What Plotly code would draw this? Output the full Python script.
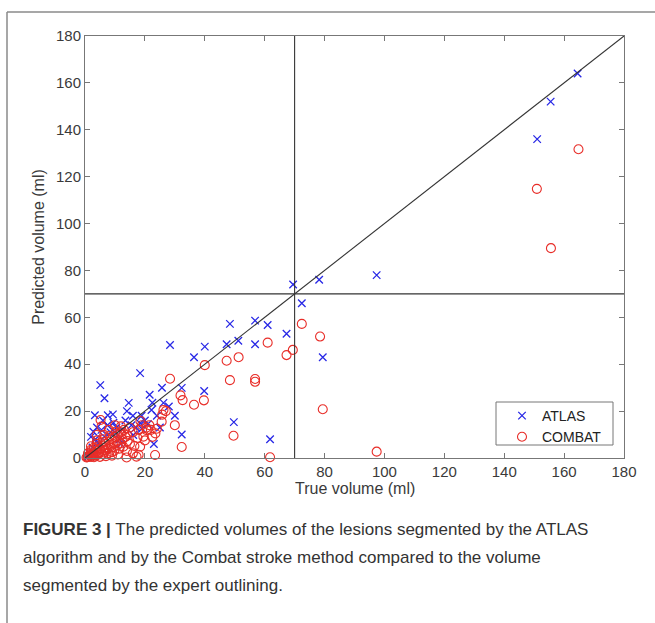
import plotly.graph_objects as go

# ---------------- data ----------------
atlas_true = [164.5, 155.5, 151, 97.4, 78.2, 72.4, 69.5, 79.4, 67.3, 61.8, 61, 56.8, 56.8, 48.4,
              51.2, 47.3, 40, 36.4, 39.8, 49.7, 32.3, 32.3, 28.4, 18.4, 25.7, 21.6, 22.5, 26.2,
              14.6, 14, 22.2, 18.9, 18.4, 23, 16.1, 5.1, 6.5, 3.3, 7.6, 9.3, 2.8,
              1.5, 2.5, 3.5, 4.5, 5.5, 6.5, 7.5, 8.5, 9.5, 10.5, 11.5, 12.5, 13.5, 15.5, 17, 19,
              20, 21, 24, 25, 2, 4, 6, 10, 12, 16, 28, 30, 1, 3]
atlas_pred = [164, 152, 136, 78, 76, 66, 74, 43, 53, 8, 56.7, 58.6, 48.5, 57.2,
              50, 48.5, 47.5, 43, 28.6, 15.3, 29.9, 10, 48.2, 36.2, 30, 27, 23.6, 23.5,
              23.5, 20, 20.5, 18, 14.8, 6, 9.8, 31.1, 25.5, 18.2, 18.2, 18.6, 11.2,
              2, 4.5, 8, 6, 12, 9, 14, 11, 15, 13, 8, 12, 16, 14, 13, 12.5,
              16, 14.5, 18, 13, 9, 13, 16, 11, 6, 18, 22, 18, 0.5, 1.5]

combat_true = [164.8, 150.9, 155.6, 97.4, 72.4, 78.5, 61, 69.4, 67.3, 40, 47.3, 51.3, 48.4, 56.8,
               56.8, 32.6, 36.4, 39.7, 79.4, 49.6, 61.8, 32.3, 28.4, 31.9, 26.2, 25.8, 25.6,
               20.6, 19.5, 18.4, 17.2, 23.4, 13.9, 17.9, 22, 21.5, 24, 22.5, 20, 23.5,
               5.2, 5.5, 6.4, 3.9,
               0.5, 1, 1.5, 2, 2.5, 3, 3.5, 4, 4.5, 5, 5.5, 6, 6.5, 7, 7.5, 8, 8.5, 9, 9.5, 10,
               10.5, 11, 11.5, 12, 12.5, 13, 13.5, 14, 15, 16, 1, 2, 3, 4, 8, 10, 12, 11, 9, 7,
               5, 3, 14, 15, 16, 4, 6, 2, 9, 27, 30, 19, 18,
               0.8, 1.8, 2.8, 3.8, 4.8, 5.8, 6.8, 7.8, 8.8, 9.8, 10.8, 11.8, 12.8, 2.2, 4.2, 6.2,
               8.2, 10.2, 12.2, 14.2, 16.5, 17.5, 18.5, 20.5]
combat_pred = [131.7, 114.8, 89.5, 2.7, 57.2, 51.8, 49.2, 46.1, 43.9, 39.6, 41.5, 43, 33.2, 33.7,
               32.5, 24.7, 22.7, 24.6, 20.8, 9.5, 0.3, 4.7, 33.8, 26.7, 20.5, 18.5, 15.5,
               11.9, 9.1, 4.8, 0.6, 1.3, 0.2, 1.4, 12, 14, 12.5, 9, 7.5, 10.5,
               16.2, 13.4, 9.8, 9.8,
               0.2, 0.6, 1.2, 0.5, 1.8, 2.5, 1, 3, 2, 4, 2.5, 5, 3.5, 6, 4, 7, 5, 8, 6, 9,
               7, 10, 4, 11, 8, 12, 9, 10, 13, 11, 2, 3.5, 4.5, 6, 12, 14, 13.5, 1.5, 1, 0.8,
               0.5, 0.3, 3, 6, 2, 7.5, 8, 5, 2.5, 20, 14, 14, 12,
               0.3, 0.9, 1.4, 1.1, 2.4, 1.6, 3.2, 2.1, 4.4, 3.1, 5.6, 6.2, 4.8, 2.9, 4.9, 6.8,
               9.4, 11.2, 10.1, 7.2, 5.1, 8.6, 15.8, 12.9]

series_names = ["ATLAS", "COMBAT"]
axis_range = [0, 180]
tick_values = [0, 20, 40, 60, 80, 100, 120, 140, 160, 180]
threshold = 70

x_title = "True volume (ml)"
y_title = "Predicted volume (ml)"
caption_lines = [
    "<b>FIGURE 3 |</b> The predicted volumes of the lesions segmented by the ATLAS",
    "algorithm and by the Combat stroke method compared to the volume",
    "segmented by the expert outlining.",
]

# ---------------- figure ----------------
FONT = "Liberation Sans, Arial, Helvetica, sans-serif"
W, H = 655, 623
L, R, T, B = 85, 31, 36, 165
PW, PH = W - L - R, H - T - B

def px_to_paper_x(px):
    return (px - L) / PW

def px_to_paper_y(py):
    return (H - B - py) / PH

fig = go.Figure()

fig.add_trace(go.Scatter(
    x=atlas_true, y=atlas_pred, mode="markers", name=series_names[0],
    marker=dict(symbol="x-thin-open", size=7.5, color="rgb(40,40,230)",
                line=dict(width=1.3, color="rgb(40,40,230)")),
    cliponaxis=False,
))
fig.add_trace(go.Scatter(
    x=combat_true, y=combat_pred, mode="markers", name=series_names[1],
    marker=dict(symbol="circle-open", size=9, color="rgb(232,45,40)",
                line=dict(width=1.1, color="rgb(232,45,40)")),
    cliponaxis=False,
))

line_style = dict(color="#333333", width=1.1)
fig.add_trace(go.Scatter(x=axis_range, y=axis_range, mode="lines", line=line_style,
                         showlegend=False, hoverinfo="skip"))
fig.add_trace(go.Scatter(x=[threshold, threshold], y=axis_range, mode="lines", line=line_style,
                         showlegend=False, hoverinfo="skip"))
fig.add_trace(go.Scatter(x=axis_range, y=[threshold, threshold], mode="lines", line=line_style,
                         showlegend=False, hoverinfo="skip"))

axis_common = dict(
    range=axis_range, tickvals=tick_values, ticktext=[str(v) for v in tick_values],
    ticks="inside", ticklen=5, tickwidth=1, tickcolor="#777777",
    showline=True, linecolor="#777777", linewidth=1, mirror="ticks",
    showgrid=False, zeroline=False,
    tickfont=dict(family=FONT, size=15, color="#3a3a3a"),
    title_font=dict(family=FONT, size=16, color="#3a3a3a"),
)
fig.update_xaxes(**axis_common)
fig.update_yaxes(**axis_common, title_text=y_title, title_standoff=7)

annotations = [dict(
    text=x_title, xref="paper", yref="paper", x=px_to_paper_x(355), y=px_to_paper_y(488),
    xanchor="center", yanchor="middle", showarrow=False,
    font=dict(family=FONT, size=16, color="#3a3a3a"),
)]
caption_y = [529, 557, 585]
for text, cy in zip(caption_lines, caption_y):
    annotations.append(dict(
        text=text, xref="paper", yref="paper",
        x=px_to_paper_x(21), y=px_to_paper_y(cy), xanchor="left", yanchor="middle",
        showarrow=False, font=dict(family=FONT, size=17, color="#333333"),
    ))

shapes = [
    # figure frame (top and left edges)
    dict(type="line", xref="paper", yref="paper",
         x0=px_to_paper_x(7), x1=px_to_paper_x(W + 10), y0=px_to_paper_y(12), y1=px_to_paper_y(12),
         line=dict(color="#8a8a8a", width=1.5)),
    dict(type="line", xref="paper", yref="paper",
         x0=px_to_paper_x(7), x1=px_to_paper_x(7), y0=px_to_paper_y(12), y1=px_to_paper_y(H + 10),
         line=dict(color="#8a8a8a", width=1.5)),
    # legend box
    dict(type="rect", xref="paper", yref="paper", layer="above",
         x0=px_to_paper_x(496), x1=px_to_paper_x(613), y0=px_to_paper_y(445), y1=px_to_paper_y(402),
         fillcolor="white", line=dict(color="#777777", width=1)),
]

fig.update_layout(
    width=W, height=H,
    margin=dict(l=L, r=R, t=T, b=B, pad=0),
    paper_bgcolor="white", plot_bgcolor="white",
    font=dict(family=FONT, color="#333333"),
    showlegend=True,
    legend=dict(
        x=px_to_paper_x(502), y=px_to_paper_y(400), xanchor="left", yanchor="top",
        bgcolor="rgba(0,0,0,0)", borderwidth=0,
        font=dict(family=FONT, size=14, color="#222222"),
        tracegroupgap=0, itemwidth=30,
    ),
    annotations=annotations,
    shapes=shapes,
)

fig.write_html("out.html", config={"displayModeBar": False},
               post_script="document.body.style.margin='0px';document.body.style.overflow='hidden';")
